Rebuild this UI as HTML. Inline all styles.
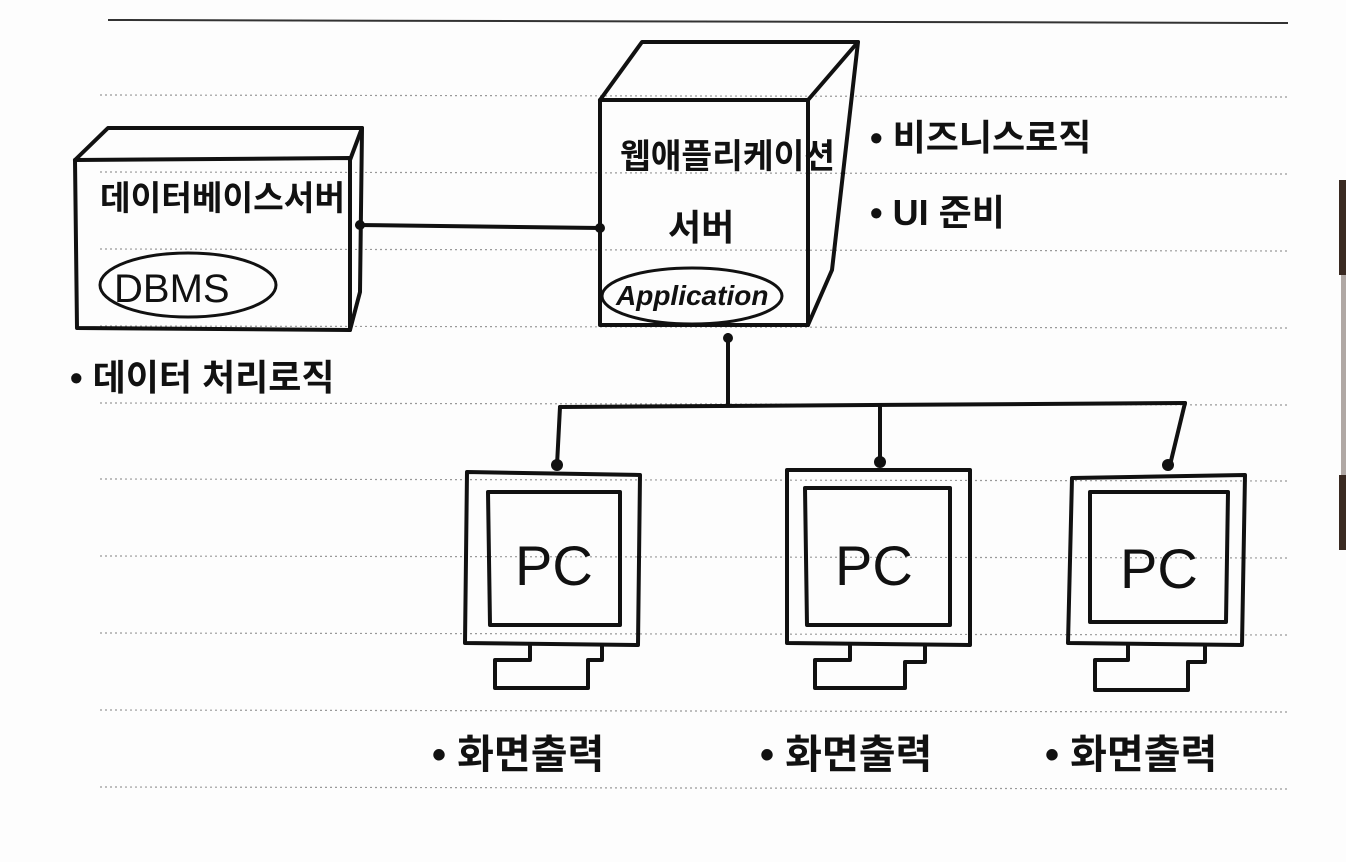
<!DOCTYPE html>
<html><head><meta charset="utf-8"><style>
html,body{margin:0;padding:0;background:#fff;}
svg{display:block;}
.k{font-family:"Liberation Sans","Noto Sans CJK KR","NanumGothic",sans-serif;fill:#111;font-weight:bold;}
</style></head><body>
<svg width="1346" height="862" viewBox="0 0 1346 862">
<rect width="1346" height="862" fill="#fdfdfd"/>
<g>
<line x1="108" y1="20" x2="1288" y2="23" stroke="#333" stroke-width="2"/>
<g stroke="#999" stroke-width="1.2" stroke-dasharray="2,3">
<line x1="100" y1="95" x2="1288" y2="97"/>
<line x1="100" y1="172" x2="1288" y2="174"/>
<line x1="100" y1="249" x2="1288" y2="251"/>
<line x1="100" y1="326" x2="1288" y2="328"/>
<line x1="100" y1="403" x2="1288" y2="405"/>
<line x1="100" y1="479" x2="1288" y2="481"/>
<line x1="100" y1="556" x2="1288" y2="558"/>
<line x1="100" y1="633" x2="1288" y2="635"/>
<line x1="100" y1="710" x2="1288" y2="712"/>
<line x1="100" y1="787" x2="1288" y2="789"/>
</g>
<rect x="1339" y="180" width="7" height="95" fill="#3a2a22"/>
<rect x="1341" y="275" width="5" height="200" fill="#b0a8a4"/>
<rect x="1339" y="475" width="7" height="75" fill="#3a2a22"/>
</g>
<g fill="none" stroke="#111" stroke-width="4" stroke-linejoin="round" stroke-linecap="round">
<g>
<path d="M75,160 L350,158 L350,330 L77,328 Z"/>
<path d="M75,160 L108,128 L362,128 L350,160"/>
<path d="M362,128 L360,292 L350,330"/>
<ellipse cx="188" cy="285" rx="88" ry="32" stroke-width="3"/>
</g>
<g>
<path d="M600,100 L808,100 L808,325 L600,325 Z"/>
<path d="M600,100 L642,42 L858,42 L808,100"/>
<path d="M858,42 L832,270 L808,325"/>
<ellipse cx="692" cy="296" rx="90" ry="28" stroke-width="3"/>
</g>
<g>
<path d="M357,225 L600,228"/>
<path d="M728,335 L728,405"/>
<path d="M560,407 L1185,403"/>
<path d="M560,407 L557,465"/>
<path d="M880,405 L880,462"/>
<path d="M1185,403 L1170,465"/>
</g>
<g>
<path d="M467,472 L640,475 L638,645 L465,643 Z"/>
<path d="M488,492 L620,492 L620,625 L490,625 Z"/>
<path d="M530,645 L530,660 L495,660 L495,688 L588,688 L588,660 L602,660 L602,645"/>
</g>
<g>
<path d="M787,470 L970,470 L970,645 L787,643 Z"/>
<path d="M805,488 L950,488 L950,625 L807,625 Z"/>
<path d="M850,645 L850,660 L815,660 L815,688 L905,688 L905,662 L925,662 L925,645"/>
</g>
<g>
<path d="M1072,478 L1245,475 L1242,645 L1068,643 Z"/>
<path d="M1090,492 L1228,492 L1226,622 L1090,622 Z"/>
<path d="M1128,645 L1128,660 L1095,660 L1095,690 L1188,690 L1188,662 L1205,662 L1205,645"/>
</g>
</g>
<g fill="#111">
<circle cx="360" cy="225" r="5"/><circle cx="600" cy="228" r="5"/><circle cx="728" cy="338" r="5"/>
<circle cx="557" cy="465" r="6"/><circle cx="880" cy="462" r="6"/><circle cx="1168" cy="465" r="6"/>
</g>
<g class="k">
<text x="100" y="210" font-size="34" textLength="245" lengthAdjust="spacingAndGlyphs">데이터베이스서버</text>
<text x="114" y="302" font-size="40" font-weight="normal" font-family="Liberation Sans">DBMS</text>
<text x="70" y="390" font-size="36">• 데이터 처리로직</text>
<text x="620" y="168" font-size="34" textLength="215" lengthAdjust="spacingAndGlyphs">웹애플리케이션</text>
<text x="668" y="240" font-size="36">서버</text>
<text x="616" y="305" font-size="28" font-family="Liberation Sans" font-style="italic">Application</text>
<text x="870" y="150" font-size="36">• 비즈니스로직</text>
<text x="870" y="225" font-size="36">• UI 준비</text>
<text x="515" y="585" font-size="56" font-weight="normal" font-family="Liberation Sans">PC</text>
<text x="835" y="585" font-size="56" font-weight="normal" font-family="Liberation Sans">PC</text>
<text x="1120" y="588" font-size="56" font-weight="normal" font-family="Liberation Sans">PC</text>
<text x="432" y="768" font-size="40">• 화면출력</text>
<text x="760" y="768" font-size="40">• 화면출력</text>
<text x="1045" y="768" font-size="40">• 화면출력</text>
</g>
</svg>
</body></html>
